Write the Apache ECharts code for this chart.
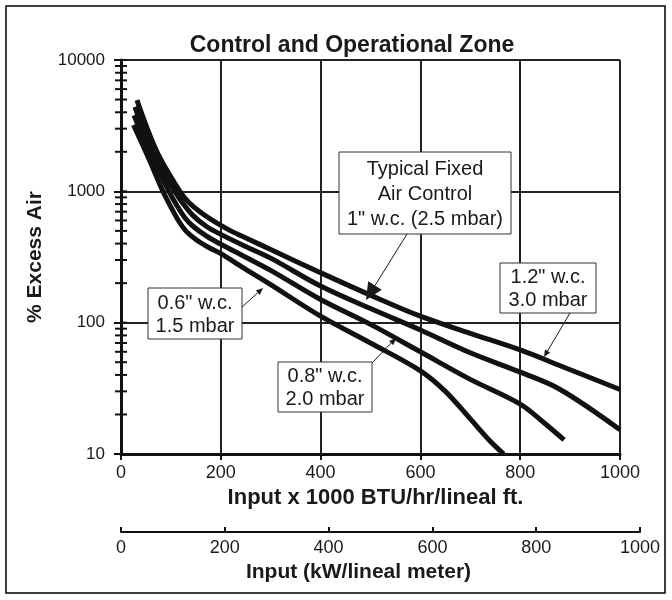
<!DOCTYPE html>
<html>
<head>
<meta charset="utf-8">
<script src="https://cdn.jsdelivr.net/npm/echarts@6/dist/echarts.min.js"></script>
<style>
html,body{margin:0;padding:0;background:#fff;}
#chart{width:672px;height:600px;}
</style>
</head>
<body>
<div id="chart"></div>
<script>
// ---- data ----
const xTicksBTU = [0, 200, 400, 600, 800, 1000];
const xTicksKW = [0, 200, 400, 600, 800, 1000];
const yTicks = [10, 100, 1000, 10000];
const minorTickValues = [20,30,40,50,60,70,80,90,200,300,400,500,600,700,800,900,2000,3000,4000,5000,6000,7000,8000,9000];

const curve06 = [[25,3200],[55,1800],[84,1000],[100,760],[115,600],[130,500],[150,430],[175,375],[200,335],[250,255],[300,195],[400,112],[500,70],[600,43],[650,30],[700,18.5],[740,12.5],[767,10]];
const curve08 = [[26,3800],[60,1900],[96,1000],[112,780],[128,630],[145,540],[170,460],[200,395],[250,315],[300,250],[400,150],[500,97],[600,60],[700,37],[800,24],[850,17],[888,12.8]];
const curve10 = [[28,4400],[65,1900],[108,1000],[125,800],[145,650],[170,545],[200,470],[250,380],[300,310],[400,190],[500,128],[600,88],[700,59],[800,42],[880,31],[1000,15.3]];
const curve12 = [[32,4950],[72,2000],[118,1000],[135,830],[160,690],[190,580],[220,500],[260,425],[300,360],[400,240],[500,162],[600,112],[700,83],[800,62],[880,47],[1000,31]];

const titleText = 'Control and Operational Zone';
const xNameBTU = 'Input x 1000 BTU/hr/lineal ft.';
const xNameKW = 'Input (kW/lineal meter)';
const yName = '% Excess Air';

const FONT = 'Liberation Sans, Arial, sans-serif';
const INK = '#1a1a1a';

function arrow(x1, y1, x2, y2, len, w, lw) {
  const dx = x2 - x1, dy = y2 - y1, L = Math.hypot(dx, dy);
  const ux = dx / L, uy = dy / L;
  const bx = x2 - ux * len, by = y2 - uy * len;
  return [
    {type: 'line', z: 100, shape: {x1: x1, y1: y1, x2: bx, y2: by}, style: {stroke: INK, lineWidth: lw || 1}},
    {type: 'polygon', z: 100, shape: {points: [[x2, y2], [bx - uy * w, by + ux * w], [bx + uy * w, by - ux * w]]}, style: {fill: INK}}
  ];
}
function box(x, y, w, h, text, lh) {
  return [
    {type: 'rect', z: 100, shape: {x: x, y: y, width: w, height: h}, style: {fill: '#fff', stroke: '#333', lineWidth: 1}},
    {type: 'text', z: 101, style: {text: text, x: x + w / 2, y: y + h / 2 + 1, align: 'center', verticalAlign: 'middle', font: '20px ' + FONT, fill: INK, lineHeight: lh}}
  ];
}

const chart = echarts.init(document.getElementById('chart'), null, {renderer: 'canvas'});

const lineSeries = (name, data) => ({
  name: name, type: 'line', data: data, xAxisIndex: 0, yAxisIndex: 0,
  smooth: 0.35, symbol: 'none', lineStyle: {color: '#111', width: 5}, z: 5, silent: true
});

const plainNum = v => String(Math.round(v));

const graphics = [].concat(
  [{type: 'rect', shape: {x: 6, y: 6, width: 659, height: 587}, style: {fill: 'none', stroke: '#000', lineWidth: 1.5}, z: 0}],
  box(339, 152, 172, 82, 'Typical Fixed\nAir Control\n1" w.c. (2.5 mbar)', 25),
  arrow(407, 234, 366, 300, 17, 8, 1),
  box(500, 263, 96, 50, '1.2" w.c.\n3.0 mbar', 23),
  arrow(570, 313, 544, 357, 7, 3, 1),
  box(148, 288, 94, 51, '0.6" w.c.\n1.5 mbar', 23),
  arrow(242, 307, 263, 288, 7, 3, 1),
  box(278, 362, 94, 50, '0.8" w.c.\n2.0 mbar', 23),
  arrow(372, 363, 396, 338, 7, 3, 1)
);

const option = {
  backgroundColor: '#fff',
  animation: false,
  title: {
    text: titleText, left: 347, top: 29, textAlign: 'center',
    textStyle: {fontFamily: FONT, fontWeight: 'bold', fontSize: 23, color: INK}
  },
  grid: [
    {left: 121, right: 52, top: 60, bottom: 146, show: false},
    {left: 121, width: 519, top: 531, height: 1, show: false}
  ],
  xAxis: [
    {
      type: 'value', gridIndex: 0, min: 0, max: 1000, interval: 200,
      name: xNameBTU, nameLocation: 'middle', nameGap: 32,
      nameTextStyle: {fontFamily: FONT, fontWeight: 'bold', fontSize: 22, color: INK, padding: [0, 0, 0, 10]},
      axisLine: {show: true, onZero: false, lineStyle: {color: '#111', width: 3}},
      axisTick: {show: true, length: 6, lineStyle: {color: '#111', width: 2}},
      axisLabel: {margin: 10, fontFamily: FONT, fontSize: 18, color: INK, formatter: plainNum},
      splitLine: {show: true, lineStyle: {color: '#222', width: 2}}
    },
    {
      type: 'value', gridIndex: 1, min: 0, max: 1000, interval: 200, position: 'bottom',
      name: xNameKW, nameLocation: 'middle', nameGap: 30,
      nameTextStyle: {fontFamily: FONT, fontWeight: 'bold', fontSize: 21, color: INK, padding: [0, 0, 0, -44]},
      axisLine: {show: true, onZero: false, lineStyle: {color: '#111', width: 2}},
      axisTick: {show: true, inside: true, length: 5, lineStyle: {color: '#111', width: 2}},
      axisLabel: {margin: 7, fontFamily: FONT, fontSize: 18, color: INK, formatter: plainNum},
      splitLine: {show: false}
    }
  ],
  yAxis: [
    {
      type: 'log', logBase: 10, gridIndex: 0, min: 10, max: 10000,
      name: yName, nameLocation: 'middle', nameGap: 75, nameRotate: 90,
      nameTextStyle: {fontFamily: FONT, fontWeight: 'bold', fontSize: 21, color: INK},
      axisLine: {show: true, lineStyle: {color: '#111', width: 3}},
      axisTick: {show: true, length: 7, lineStyle: {color: '#111', width: 2}},
      axisLabel: {margin: 16, fontFamily: FONT, fontSize: 17, color: INK, formatter: plainNum},
      splitLine: {show: true, lineStyle: {color: '#222', width: 2}}
    },
    {type: 'value', gridIndex: 1, show: false, min: 0, max: 1}
  ],
  graphic: graphics,
  series: [
    lineSeries('0.6" w.c.', curve06),
    lineSeries('0.8" w.c.', curve08),
    lineSeries('1" w.c.', curve10),
    lineSeries('1.2" w.c.', curve12),
    {
      type: 'custom', xAxisIndex: 0, yAxisIndex: 0, silent: true, clip: false, z: 6,
      data: minorTickValues.map(v => [0, v]),
      renderItem: function (params, api) {
        const p = api.coord([0, api.value(1)]);
        return {type: 'line', shape: {x1: p[0] - 6, y1: p[1], x2: p[0] + 6, y2: p[1]}, style: {stroke: '#111', lineWidth: 2}};
      }
    },
    {
      type: 'custom', xAxisIndex: 0, yAxisIndex: 0, silent: true, clip: false, z: 6,
      data: yTicks.map(v => [0, v]),
      renderItem: function (params, api) {
        const p = api.coord([0, api.value(1)]);
        return {type: 'line', shape: {x1: p[0], y1: p[1], x2: p[0] + 6, y2: p[1]}, style: {stroke: '#111', lineWidth: 2}};
      }
    }
  ]
};
chart.setOption(option);
</script>
</body>
</html>
